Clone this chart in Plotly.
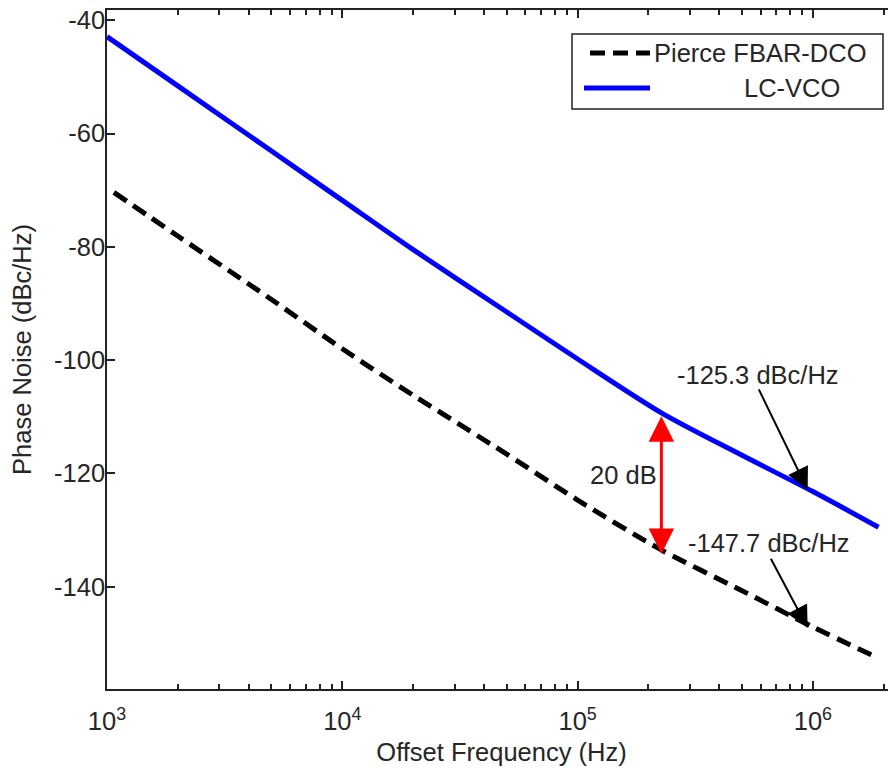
import math
import plotly.graph_objects as go

# ---------------- data ----------------
lc_freq = [1.0e3, 2.0e3, 5.0e3, 1.0e4, 2.0e4, 5.0e4, 1.0e5, 2.27e5, 5.0e5, 1.0e6, 1.9e6]
lc_pn = [-42.9, -51.6, -63.1, -71.8, -80.5, -91.5, -99.8, -109.3, -116.8, -123.2, -129.5]

fbar_freq = [1.07e3, 2.0e3, 5.0e3, 1.0e4, 2.0e4, 5.0e4, 1.0e5, 2.27e5, 5.0e5, 1.0e6, 1.88e6]
fbar_pn = [-70.4, -78.1, -89.3, -98.0, -106.2, -116.6, -124.7, -133.5, -140.7, -147.1, -152.5]

series_names = ["Pierce FBAR-DCO", "LC-VCO"]
y_tick_vals = [-140, -120, -100, -80, -60, -40]
y_tick_text = ["-140", "-120", "-100", "-80", "-60", "-40"]

gap_freq = 2.27e5          # where the 20 dB arrow is drawn
gap_label = "20 dB"
spot_freq = 9.5e5          # spot noise arrows
spot_labels = ["-125.3 dBc/Hz", "-147.7 dBc/Hz"]

# ---------------- layout helpers ----------------
# the page body adds an 8 px offset, so the figure is laid out 8 px up/left
OFF = 8
W, H = 896, 771
ML, MT = 107 - OFF, 10 - OFF
PW, PH = 789, 679
MR = W - ML - PW
MB = H - MT - PH
FONT = "Liberation Sans, Arial, sans-serif"
TXT = "#262626"
FS = 25.5


def px(x):
    return (x - OFF - ML) / PW


def py(y):
    return (MT + PH - (y - OFF)) / PH


fig = go.Figure()
fig.add_trace(go.Scatter(x=fbar_freq, y=fbar_pn, mode="lines", name=series_names[0],
                         line=dict(color="black", width=5, dash="15px,8px",
                                   shape="spline", smoothing=0.8), showlegend=False))
fig.add_trace(go.Scatter(x=lc_freq, y=lc_pn, mode="lines", name=series_names[1],
                         line=dict(color="#0000ff", width=5, shape="spline", smoothing=0.8),
                         showlegend=False))

gi = lc_freq.index(gap_freq)
gj = fbar_freq.index(gap_freq)
gx = math.log10(gap_freq)
sx = math.log10(spot_freq)

annotations = []
# 20 dB double arrow
annotations.append(dict(x=gx, y=lc_pn[gi] - 0.6, ax=gx, ay=fbar_pn[gj] - 1.0,
                        xref="x", yref="y", axref="x", ayref="y", text="",
                        showarrow=True, arrowhead=2, arrowside="end+start",
                        arrowsize=1.7, arrowwidth=3, arrowcolor="#ff0000"))
annotations.append(dict(x=gx - 0.01, y=-120.3, xref="x", yref="y", text=gap_label,
                        showarrow=False, xanchor="right", yanchor="middle",
                        font=dict(family=FONT, size=FS, color=TXT)))
# spot noise arrows
annotations.append(dict(x=sx, y=-122.9, ax=5.767, ay=-104.9,
                        xref="x", yref="y", axref="x", ayref="y", text="",
                        showarrow=True, arrowhead=2, arrowsize=2.2, arrowwidth=2,
                        arrowcolor="black"))
annotations.append(dict(x=5.415, y=-102.6, xref="x", yref="y", text=spot_labels[0],
                        showarrow=False, xanchor="left", yanchor="middle",
                        font=dict(family=FONT, size=FS, color=TXT)))
annotations.append(dict(x=sx, y=-147.3, ax=5.818, ay=-134.8,
                        xref="x", yref="y", axref="x", ayref="y", text="",
                        showarrow=True, arrowhead=2, arrowsize=2.2, arrowwidth=2,
                        arrowcolor="black"))
annotations.append(dict(x=5.462, y=-132.3, xref="x", yref="y", text=spot_labels[1],
                        showarrow=False, xanchor="left", yanchor="middle",
                        font=dict(family=FONT, size=FS, color=TXT)))

# manual legend
shapes = [
    dict(type="rect", xref="paper", yref="paper", x0=px(572), x1=px(883), y0=py(109), y1=py(34),
         line=dict(color="#222", width=1.5), fillcolor="white"),
    dict(type="line", xref="paper", yref="paper", x0=px(590), x1=px(650), y0=py(53), y1=py(53),
         line=dict(color="black", width=5, dash="15px,8px")),
    dict(type="line", xref="paper", yref="paper", x0=px(584), x1=px(650), y0=py(88), y1=py(88),
         line=dict(color="#0000ff", width=5)),
]
annotations.append(dict(x=px(652), y=py(53), xref="paper", yref="paper", text=series_names[0],
                        showarrow=False, xanchor="left", yanchor="middle",
                        font=dict(family=FONT, size=FS, color=TXT)))
annotations.append(dict(x=px(742), y=py(88), xref="paper", yref="paper", text=series_names[1],
                        showarrow=False, xanchor="left", yanchor="middle",
                        font=dict(family=FONT, size=FS, color=TXT)))

fig.update_layout(
    width=W, height=H,
    margin=dict(l=ML, r=MR, t=MT, b=MB, autoexpand=False),
    paper_bgcolor="white", plot_bgcolor="white",
    font=dict(family=FONT, size=FS, color=TXT),
    annotations=annotations, shapes=shapes,
    xaxis=dict(type="log", range=[3, 3 + PW / 235.3], automargin=False,
               tickmode="linear", tick0=0, dtick=1, exponentformat="power",
               tickfont=dict(family=FONT, size=FS / 1.25, color=TXT),
               ticklabelstandoff=10, ticklabeloverflow="allow",
               ticks="inside", ticklen=8, tickwidth=1.5, tickcolor="#222",
               minor=dict(dtick="D1", ticks="inside",
                          ticklen=5, tickwidth=1.5, tickcolor="#222", showgrid=False),
               showline=True, linecolor="#222", linewidth=1.5, mirror="allticks",
               showgrid=False, zeroline=False,
               title=dict(text="Offset Frequency (Hz)", standoff=9,
                          font=dict(family=FONT, size=FS, color=TXT))),
    yaxis=dict(range=[-158.05, -38.2], automargin=False,
               tickvals=y_tick_vals, ticktext=y_tick_text,
               ticklabelstandoff=-5, ticklabeloverflow="allow",
               ticks="inside", ticklen=8, tickwidth=1.5, tickcolor="#222",
               showline=True, linecolor="#222", linewidth=1.5, mirror="allticks",
               showgrid=False, zeroline=False,
               title=dict(text="Phase Noise (dBc/Hz)", standoff=15,
                          font=dict(family=FONT, size=FS, color=TXT))),
)

fig.write_html("out.html")
